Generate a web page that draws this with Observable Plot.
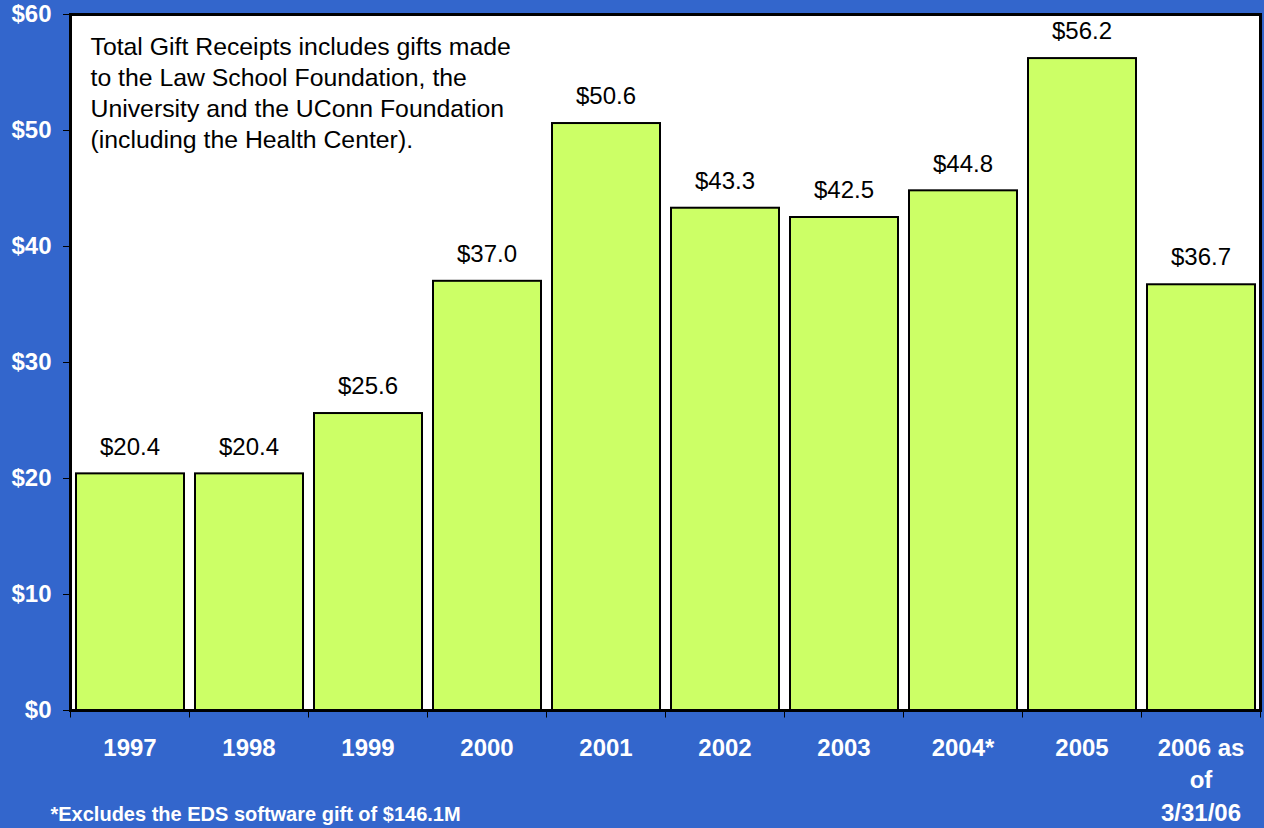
<!DOCTYPE html>
<html><head><meta charset="utf-8">
<script src="https://cdn.jsdelivr.net/npm/d3@7"></script>
<script src="https://cdn.jsdelivr.net/npm/@observablehq/plot@0.6"></script>
<style>html,body{margin:0;padding:0;background:#3366CC;overflow:hidden}</style>
</head><body><div id="chart"></div>
<script>
const years = ["1997","1998","1999","2000","2001","2002","2003","2004*","2005","2006"];
const xLabels = ["1997","1998","1999","2000","2001","2002","2003","2004*","2005","2006 as\nof\n3/31/06"];
const values = [20.4, 20.4, 25.6, 37.0, 50.6, 43.3, 42.5, 44.8, 56.2, 36.7];
const yTicks = [0, 10, 20, 30, 40, 50, 60];
const noteLines = [
  "Total Gift Receipts includes gifts made",
  "to the Law School Foundation, the",
  "University and the UConn Foundation",
  "(including the Health Center)."
];
const footnote = "*Excludes the EDS software gift of $146.1M";

const data = years.map((y, i) => ({year: y, value: values[i], label: "$" + values[i].toFixed(1)}));
const bw = 1190 / years.length;

const chart = Plot.plot({
  width: 1264,
  height: 828,
  marginLeft: 70,
  marginRight: 4,
  marginTop: 14,
  marginBottom: 118,
  style: {fontFamily: "'Liberation Sans', Arial, sans-serif", background: "#3366CC"},
  x: {type: "band", domain: years, padding: 0},
  y: {domain: [0, 60]},
  marks: [
    Plot.frame({fill: "white"}),
    Plot.barY(data, {x: "year", y: "value", fill: "#CCFF66", stroke: "black", strokeWidth: 2, insetLeft: 6, insetRight: 5}),
    Plot.text(data, {x: "year", y: "value", text: "label", dy: -27, fontSize: 24, fill: "black"}),
    Plot.text([noteLines.join("\n")], {frameAnchor: "top-left", dx: 20, dy: 19, lineAnchor: "top", textAnchor: "start", fontSize: 24.8, lineHeight: 1.24, fill: "black"}),
    Plot.ruleX(years, {x: d => d, dx: -bw / 2, y1: 0, y2: -0.65, stroke: "black"}),
    Plot.ruleX([years[years.length - 1]], {x: d => d, dx: bw / 2, y1: 0, y2: -0.65, stroke: "black"}),
    Plot.frame({stroke: "black", strokeWidth: 3}),
    Plot.axisY({ticks: yTicks, tickFormat: d => "$" + d, tickSize: 7, tickPadding: 12, stroke: "black", fill: "white", fontSize: 24, fontWeight: "bold", label: null}),
    Plot.axisX({tickSize: 0, tickPadding: 23, tickFormat: (d, i) => xLabels[years.indexOf(d)], fill: "white", fontSize: 24, fontWeight: "bold", lineHeight: 1.34, label: null}),
    Plot.text([footnote], {frameAnchor: "bottom-left", dx: -20, dy: 110, textAnchor: "start", fontSize: 20, fontWeight: "bold", fill: "white"})
  ]
});
document.getElementById("chart").appendChild(chart);
</script>
</body></html>
